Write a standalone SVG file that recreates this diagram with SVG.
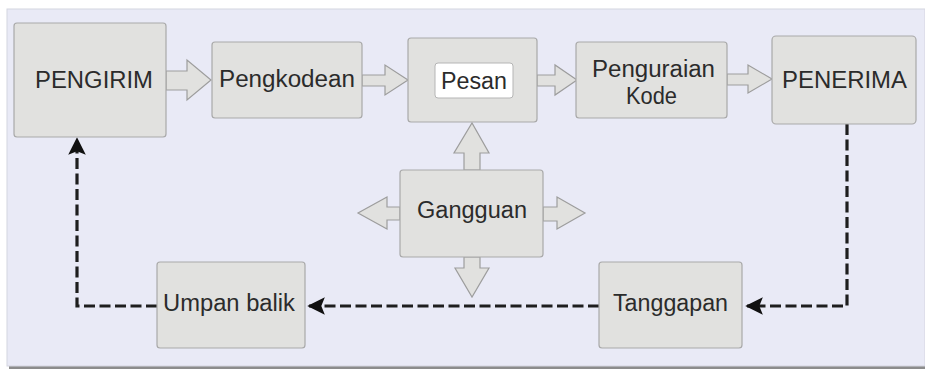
<svg xmlns="http://www.w3.org/2000/svg" width="925" height="369" viewBox="0 0 925 369">
  <defs>
    <style>
      .box { fill: #e1e1df; stroke: #a9a9a9; stroke-width: 1.2; }
      .blk { fill: #e1e1df; stroke: #9d9d9d; stroke-width: 1.2; stroke-linejoin: miter; }
      .lbl { font-family: "Liberation Sans", Arial, sans-serif; font-size: 23px; fill: #2b2b2b; }
      .dash { fill: none; stroke: #1e1e1e; stroke-width: 3.2; stroke-dasharray: 11 4.5; }
    </style>
    <marker id="head" viewBox="0 0 10 10" refX="9" refY="5" markerWidth="5.5" markerHeight="5.5" markerUnits="strokeWidth" orient="auto">
      <path d="M0,0 L10,5 L0,10 L2,5 Z" fill="#111111"/>
    </marker>
  </defs>

  <!-- canvas -->
  <rect x="0" y="0" width="925" height="369" fill="#ffffff"/>
  <rect x="9" y="366" width="916" height="3" fill="#8c8c8c"/>
  <rect x="7" y="9" width="918" height="357" fill="#e9eaf6" stroke="#d4d5e0" stroke-width="1"/>

  <!-- block arrows between the stages -->
  <g id="flow-arrows">
    <path class="blk" d="M166,71 H187 V60 L211,80 L187,100 V90 H166 Z"/>
    <path class="blk" d="M362,75 H385 V65 L408,80 L385,95 V86 H362 Z"/>
    <path class="blk" d="M537,75 H555 V65 L577,80 L555,95 V86 H537 Z"/>
    <path class="blk" d="M727,74 H748 V65 L772,79 L748,93 V85 H727 Z"/>
    <!-- noise arrows -->
    <path class="blk" d="M464,170 V153 H454 L472,123 L489,153 H480 V170 Z"/>
    <path class="blk" d="M400,207 H387 V197 L358,213 L387,229 V220 H400 Z"/>
    <path class="blk" d="M543,207 H557 V197 L585,213 L557,229 V221 H543 Z"/>
    <path class="blk" d="M464,257 V268 H455 L472,297 L489,268 H480 V257 Z"/>
  </g>

  <!-- dashed feedback loop -->
  <g id="connectors">
    <path class="dash" d="M847,124 V306 H747" marker-end="url(#head)"/>
    <path class="dash" d="M599,306 H309" marker-end="url(#head)"/>
    <path class="dash" d="M157,306 H77 V139" marker-end="url(#head)"/>
  </g>

  <g id="pengirim">
    <rect class="box" x="14" y="23" width="152" height="114" rx="3"/>
    <text class="lbl" x="35" y="88" textLength="118" lengthAdjust="spacingAndGlyphs">PENGIRIM</text>
  </g>

  <g id="pengkodean">
    <rect class="box" x="212" y="42" width="150" height="76" rx="3"/>
    <text class="lbl" x="219" y="87" textLength="136" lengthAdjust="spacingAndGlyphs">Pengkodean</text>
  </g>

  <g id="pesan">
    <rect class="box" x="408" y="38" width="129" height="84" rx="3"/>
    <rect x="435" y="63" width="78" height="35" rx="3" fill="#ffffff" stroke="#b5b5b5" stroke-width="1"/>
    <text class="lbl" x="441" y="89" textLength="66" lengthAdjust="spacingAndGlyphs">Pesan</text>
  </g>

  <g id="penguraian-kode">
    <rect class="box" x="576" y="42" width="151" height="76" rx="3"/>
    <text class="lbl" x="592" y="77" textLength="123" lengthAdjust="spacingAndGlyphs">Penguraian</text>
    <text class="lbl" x="626" y="104" textLength="51" lengthAdjust="spacingAndGlyphs">Kode</text>
  </g>

  <g id="penerima">
    <rect class="box" x="772" y="36" width="144" height="88" rx="4"/>
    <text class="lbl" x="782" y="88" textLength="125" lengthAdjust="spacingAndGlyphs">PENERIMA</text>
  </g>

  <g id="gangguan">
    <rect class="box" x="400" y="170" width="143" height="87" rx="3"/>
    <text class="lbl" x="417" y="218" textLength="110" lengthAdjust="spacingAndGlyphs">Gangguan</text>
  </g>

  <g id="umpan-balik">
    <rect class="box" x="157" y="262" width="148" height="86" rx="3"/>
    <text class="lbl" x="163" y="311" textLength="132" lengthAdjust="spacingAndGlyphs">Umpan balik</text>
  </g>

  <g id="tanggapan">
    <rect class="box" x="599" y="262" width="143" height="86" rx="3"/>
    <text class="lbl" x="613" y="311" textLength="115" lengthAdjust="spacingAndGlyphs">Tanggapan</text>
  </g>
</svg>
